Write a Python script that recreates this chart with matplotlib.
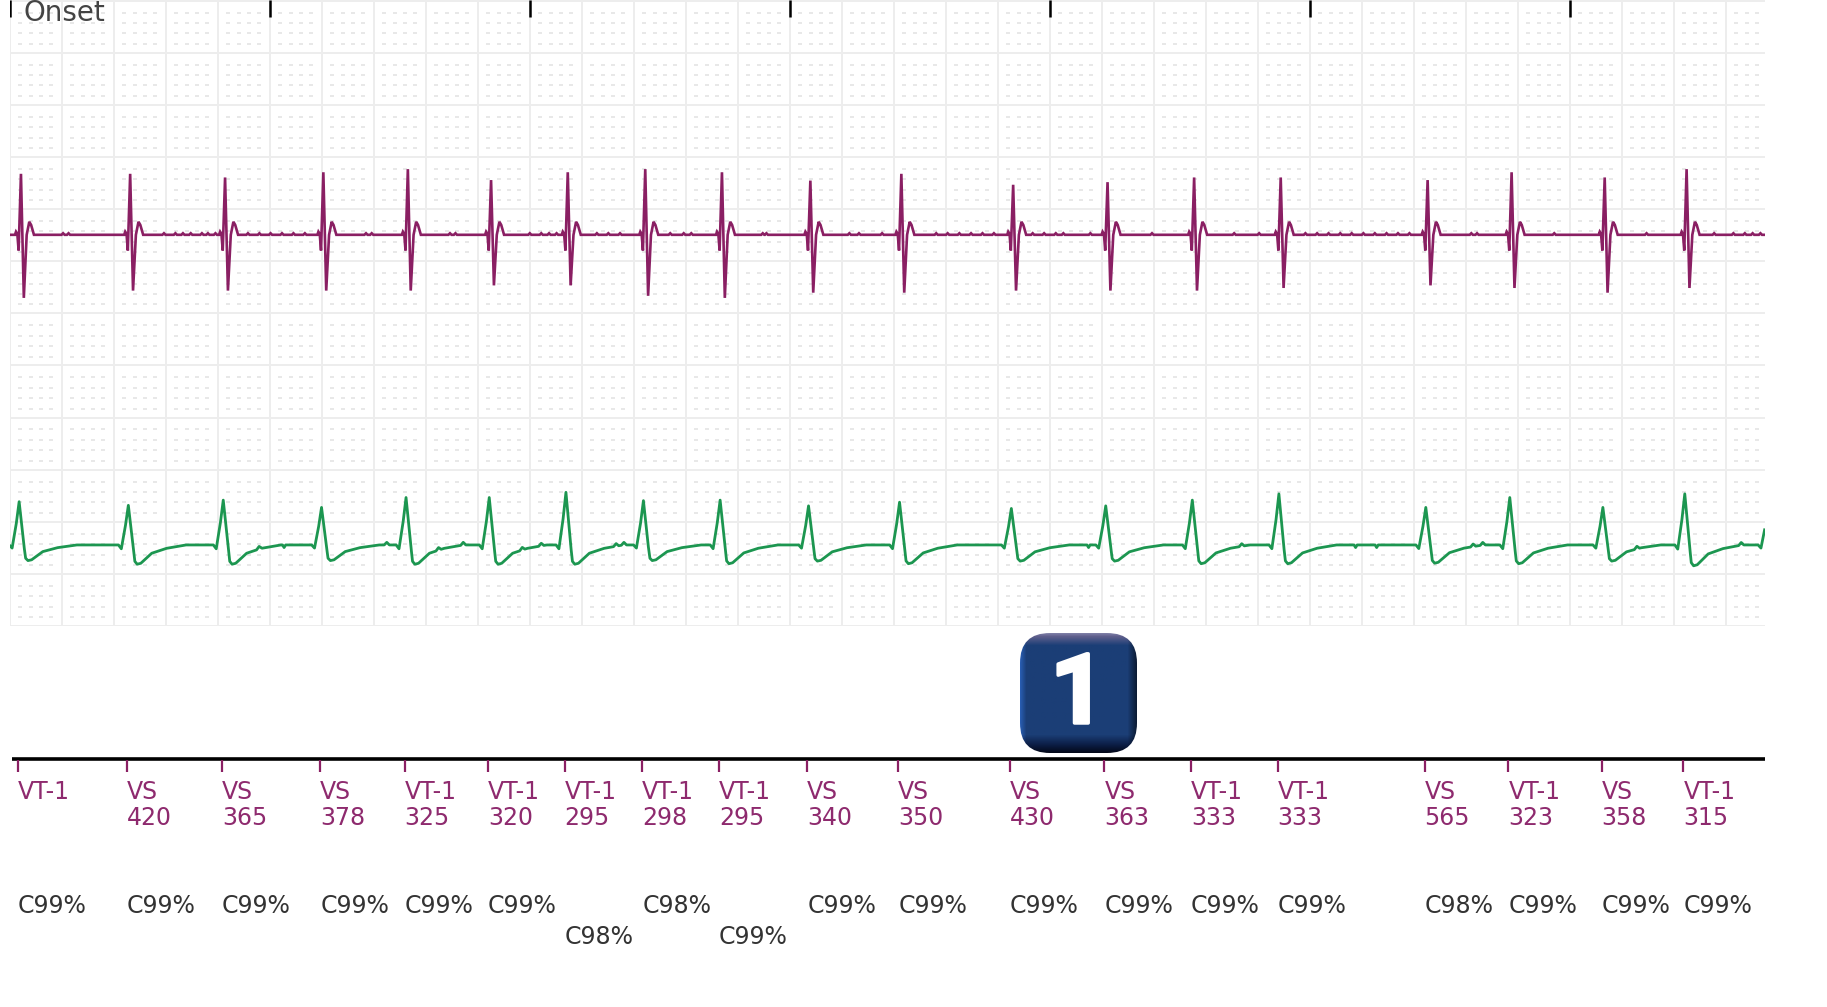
import numpy as np
import matplotlib
matplotlib.use('Agg')
import matplotlib.pyplot as plt
import matplotlib.patheffects as pe
from matplotlib.patches import FancyBboxPatch

plt.rcParams['font.family'] = ['DejaVu Sans']

# events
event_types = ['VT-1', 'VS', 'VS', 'VS', 'VT-1', 'VT-1', 'VT-1', 'VT-1', 'VT-1', 'VS',
               'VS', 'VS', 'VS', 'VT-1', 'VT-1', 'VS', 'VT-1', 'VS', 'VT-1']
intervals = [420, 365, 378, 325, 320, 295, 298, 295, 340, 350,
             430, 363, 333, 333, 565, 323, 358, 315]
confidence = [99, 99, 99, 99, 99, 99, 98, 98, 99, 99,
              99, 99, 99, 99, 99, 98, 99, 99, 99]
low_row = [6, 8]
first_event = 29

# purple channel, height of each beat above and below its baseline
purple_up = [1.17, 1.17, 1.10, 1.20, 1.26, 1.05, 1.20, 1.26, 1.20, 1.04,
             1.17, 0.96, 1.01, 1.10, 1.10, 1.05, 1.20, 1.10, 1.26]
purple_down = [1.21, 1.07, 1.07, 1.07, 1.07, 0.97, 0.97, 1.17, 1.21, 1.11,
               1.11, 1.07, 1.07, 1.07, 1.02, 0.97, 1.02, 1.11, 1.02]
purple_noise = [203, 224, 591, 635, 664, 694, 737, 760, 789, 914, 958, 1001, 1045, 1089, 1133,
                1368, 1390, 1691, 1712, 1998, 2042, 2072, 2101, 2256, 2300, 2345, 2538, 2590,
                2619, 2894, 2908, 3227, 3264, 3353, 3561, 3605, 3650, 3695, 3739, 3783, 3932,
                3976, 4021, 4050, 4154, 4391, 4707, 4803, 4981, 5026, 5070, 5115, 5159, 5204,
                5248, 5293, 5337, 5381, 5619, 5641, 5938, 6293, 6553, 6627, 6671, 6701, 6731]

# green channel, last entry is the beat cut off by the right edge
green_up = [.83, .76, .86, .72, .91, .91, 1.01, .85, .86, .75, .82, .70, .75, .86, .98, .72, .91, .72, .98, .70]
green_down = [.30, .37, .37, .30, .37, .37, .37, .30, .36, .31, .36, .31, .31, .36, .36, .35, .36, .31, .40, .30]
green_bumps = [957, 1448, 1647, 1742, 1969, 2042, 2330, 2360, 4736, 5626, 5663, 6256, 6657]
green_dips = [1053, 4147, 5174, 5255]

# beat shapes, ms from the spike
p_off = [-23, -19, -14, -9, 0, 11, 22, 32, 39, 50]
g_off = [-60, -38, -27, -12, 0, 9, 18, 25, 34, 48, 90, 145, 220]
g_frac = [0, 0, -.2, .45, 1, .5, 0, -.85, -1, -.95, -.43, -.18, 0]

PURPLE = '#8a1f63'
GREEN = '#1c9650'
W, H = 1827, 1007
LEFT, RIGHT, BOTTOM = 10.3, 1764.6, 626
T_MAX = 6747

events = first_event + np.concatenate([[0], np.cumsum(intervals)])
t = np.arange(0, T_MAX + 1, 1.0)


def blip(times, height, width=6):
    y = np.zeros_like(t)
    for c in times:
        y += np.interp(t, [c - width, c, c + width], [0, height, 0], left=0, right=0)
    return y


purple = blip(purple_noise, 0.03, 6)
for ev, up, down in zip(events, purple_up, purple_down):
    vals = [0, .06, .02, -.30, up, -down, 0, .25, .19, 0]
    purple += np.interp(t, ev + 12 + np.array(p_off), vals, left=0, right=0)

green = blip(green_bumps, 0.05, 10) + blip(green_dips, -0.05, 6)
green_events = np.append(events, events[-1] + 320)
for ev, up, down in zip(green_events, green_up, green_down):
    vals = [f * up if f > 0 else f * down for f in g_frac]
    green += np.interp(t, ev + 5 + np.array(g_off), vals, left=0, right=0)

fig = plt.figure(figsize=(W / 100, H / 100), dpi=100, facecolor='white')

# strip chart
ax = fig.add_axes([LEFT / W, 1 - BOTTOM / H, (RIGHT - LEFT) / W, BOTTOM / H])
ax.set_xlim(0, T_MAX)
ax.set_ylim(0, 12.01)
for s in ax.spines.values():
    s.set_visible(False)
ax.set_xticks(np.arange(0, T_MAX, 200))
ax.set_yticks(np.arange(0, 13))
ax.tick_params(length=0, labelbottom=False, labelleft=False)
ax.grid(True, color='#ededed', lw=1.4, zorder=0)
ax.set_axisbelow(True)

mx = np.array([m for m in np.arange(0, T_MAX - 20, 40) if m % 200 != 0]) - 2
my = np.array([m * 0.2 for m in range(60) if m % 5 != 0]) - 0.03
gx, gy = np.meshgrid(mx, my)
ax.plot(gx.ravel(), gy.ravel(), ls='none', marker='_', ms=3.2, mew=1.3, color='#e6e6e6', zorder=1)

ax.plot(t, purple + 7.505, color=PURPLE, lw=1.9, zorder=3, solid_joinstyle='miter')
ax.plot(t, green + 1.555, color=GREEN, lw=2.0, zorder=3)

ax.vlines(np.arange(0, 7000, 1000), 11.69, 12.01, color='black', lw=1.8, zorder=4)
ax.text(50, 11.6, 'Onset', fontsize=20, color='#444444', va='baseline', ha='left', zorder=5)

# marker channel
ev_ax = fig.add_axes([LEFT / W, 0, (RIGHT - LEFT) / W, 1 - BOTTOM / H], sharex=ax)
ev_ax.set_ylim(H, BOTTOM)
ev_ax.axis('off')
ev_ax.hlines(758.5, 6, T_MAX, color='black', lw=2.6, clip_on=False)
ev_ax.vlines(events, 760, 772, color=PURPLE, lw=1.6)
for i, ev in enumerate(events):
    ev_ax.text(ev, 792, event_types[i], fontsize=17, color='#8e2a6e', va='center', ha='left')
    if i > 0:
        ev_ax.text(ev, 818, str(intervals[i - 1]), fontsize=17, color='#8e2a6e', va='center', ha='left')
    row = 937 if i in low_row else 906
    ev_ax.text(ev, row, 'C%d%%' % confidence[i], fontsize=17, color='#333333', va='center', ha='left')

# badge
bx0, bx1, by0, by1 = 1020, 1137, 633, 753
bw, bh = bx1 - bx0, by1 - by0
bad = fig.add_axes([bx0 / W, 1 - by1 / H, bw / W, bh / H])
bad.axis('off')
stops_y = [0, 3, 12, 102, 112, 120]
stops_r = [125, 95, 27, 27, 12, 3]
stops_g = [125, 95, 62, 62, 30, 8]
stops_b = [165, 140, 118, 118, 70, 25]
ys = np.arange(0, bh + 1)
xs = np.arange(0, bw + 1)
grad = np.stack([np.interp(ys, stops_y, stops_r), np.interp(ys, stops_y, stops_g),
                 np.interp(ys, stops_y, stops_b)], axis=1)[:, None, :] / 255.0
shade = np.interp(xs, [0, 6, bw - 9, bw], [1.5, 1.0, 1.0, 0.45])[None, :, None]
img = np.clip(grad * shade, 0, 1)
im = bad.imshow(img, extent=[0, bw, bh, 0], aspect='auto', interpolation='bilinear', zorder=1)
clip = FancyBboxPatch((30, 30), bw - 60, bh - 60, boxstyle='round,pad=30,rounding_size=30',
                      fc='none', ec='none', transform=bad.transData)
bad.add_patch(clip)
im.set_clip_path(clip)
bad.set_xlim(0, bw)
bad.set_ylim(bh, 0)
bad.text(58, 64, '1', fontsize=70, color='white', family='Roboto', weight='bold', ha='center', va='center',
         zorder=3, path_effects=[pe.withStroke(linewidth=2.5, foreground='white')])

fig.savefig('out.png', dpi=100)
